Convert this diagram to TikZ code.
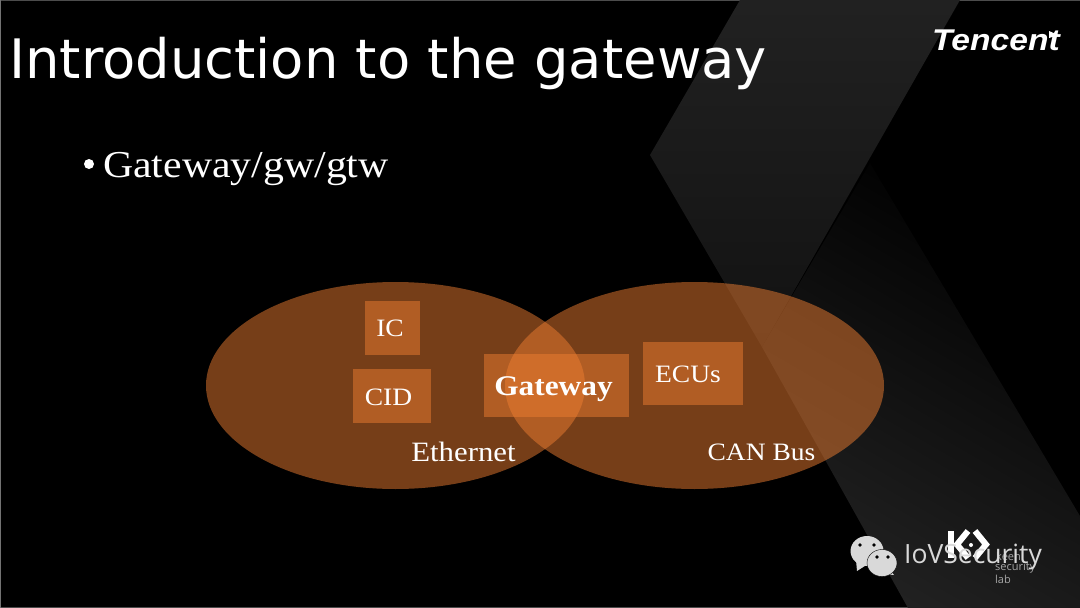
\documentclass[tikz,border=0pt]{standalone}
\usepackage{fontspec}
\usetikzlibrary{scopes,shapes.geometric}
\setmainfont[FakeStretch=1.1]{Liberation Serif}
\newfontfamily\titlefont{DejaVu Sans}
\newfontfamily\wmfont{Open Sans}
\newfontfamily\logofont[FakeStretch=1.12]{Liberation Sans}
\definecolor{lanorange}{HTML}{ED7D31}
\definecolor{wechatgray}{HTML}{D9D9D9}

\begin{document}
\begin{tikzpicture}[
    x=1pt,y=-1pt,
    band/.style={draw=none},
    lan/.style={ellipse,fill=lanorange,fill opacity=0.5,inner sep=0pt,minimum width=379pt,minimum height=207pt},
    unit/.style={rectangle,fill=lanorange,fill opacity=0.5,inner sep=0pt},
    caption/.style={text=white,inner sep=0pt,font=\fontsize{25}{28}\selectfont},
    bubble/.style={ellipse,fill=wechatgray,draw=black,thin,inner sep=0pt},
    eye/.style={circle,fill=black,inner sep=0pt,minimum size=3.6pt},
    keen/.style={line width=6pt,white,miter limit=10},
    keentext/.style={text=black!35,inner sep=0pt,font=\wmfont\fontsize{11}{11}\selectfont},
]
\useasboundingbox (0,0) rectangle (1080,608);
\fill[black] (0,0) rectangle (1080,608);
\fill[black!70] (0,0) rectangle (1080,1);
\fill[black!70] (0,607) rectangle (1080,608);
\fill[black!55] (0,0) rectangle (1,608);

%%%
% Chevron in the background
\shade[band,top color=black,bottom color=black!87,shading angle=-30]
    (870,163) -- (1080,516) -- (1080,608) -- (908,608) -- (762,347) -- cycle;
\shade[band,top color=black!87,bottom color=black!93]
    (740,0) -- (960,0) -- (762,347) -- (650,155) -- cycle;

%%%
% Title and bullet
\node[anchor=west,text=white,inner sep=0pt,font=\titlefont\fontsize{54.4}{58}\selectfont] (title) at (9,63) {Introduction to the gateway};
\node[anchor=west,text=white,inner sep=0pt,font=\fontsize{38}{42}\selectfont] (bullet) at (103,169) {Gateway/gw/gtw};
\node[circle,fill=white,inner sep=0pt,minimum size=10pt] (dot) at (89,164) {};

%%%
% The two networks and what sits on them
\node[lan] (ethernet) at (395.5,385.5) {};
\node[lan] (canbus) at (694.5,385.5) {};
\node[unit,minimum width=55pt,minimum height=54pt] (ic) at (392.5,328) {};
\node[unit,minimum width=78pt,minimum height=54pt] (cid) at (392,396) {};
\node[unit,minimum width=145pt,minimum height=63pt] (gateway) at (556.5,385.5) {};
\node[unit,minimum width=100pt,minimum height=63pt] (ecus) at (693,373.5) {};
\node[caption] (iclabel) at (390,328) {IC};
\node[caption] (cidlabel) at (388.5,397.5) {CID};
\node[caption,font=\bfseries\fontsize{28.5}{30}\selectfont] (gatewaylabel) at (553.5,389) {Gateway};
\node[caption] (ecuslabel) at (688,374.5) {ECUs};
\node[caption,font=\fontsize{28}{30}\selectfont] (ethernetlabel) at (463.5,452) {Ethernet};
\node[caption] (canbuslabel) at (761.5,452) {CAN Bus};

%%%
% Tencent mark
\node[anchor=west,text=white,inner sep=0pt,font=\logofont\bfseries\itshape\fontsize{30}{30}\selectfont] (tencent) at (932,40) {Tencent};
\fill[white] (1049,31) -- (1058,35) -- (1049,38) -- cycle;

%%%
% Lab mark
\draw[keen] (951,531) -- (951,558);
\draw[keen] (968,531) -- (957,544.5) -- (968,558);
\draw[keen] (975,531) -- (986,544.5) -- (975,558);
\node[circle,fill=white,inner sep=0pt,minimum size=4pt] (keendot) at (971,545) {};
\node[keentext,anchor=west] (keenname) at (996,556) {keen};
\node[keentext,anchor=west] (keensecurity) at (995,568) {security};
\node[keentext,anchor=west] (keenlab) at (995,579) {lab};

%%%
% WeChat bubbles
{[fill=wechatgray]
    \fill (856,560) -- (857,571) -- (868,564) -- cycle;
    \fill (890,570) -- (894,575) -- (885,574) -- cycle;
}
\node[bubble,draw=none,minimum width=33pt,minimum height=30pt] (bigbubble) at (867,551) {};
\node[bubble,minimum width=30pt,minimum height=27pt] (smallbubble) at (882,563) {};
\node[eye] (bigleft) at (860,545) {};
\node[eye] (bigright) at (874,545) {};
\node[eye] (smallleft) at (877,557) {};
\node[eye] (smallright) at (888,557) {};
\node[anchor=west,text=wechatgray,inner sep=0pt,font=\wmfont\fontsize{26.5}{26.5}\selectfont] (watermark) at (904,557) {IoVSecurity};
\end{tikzpicture}
\end{document}
